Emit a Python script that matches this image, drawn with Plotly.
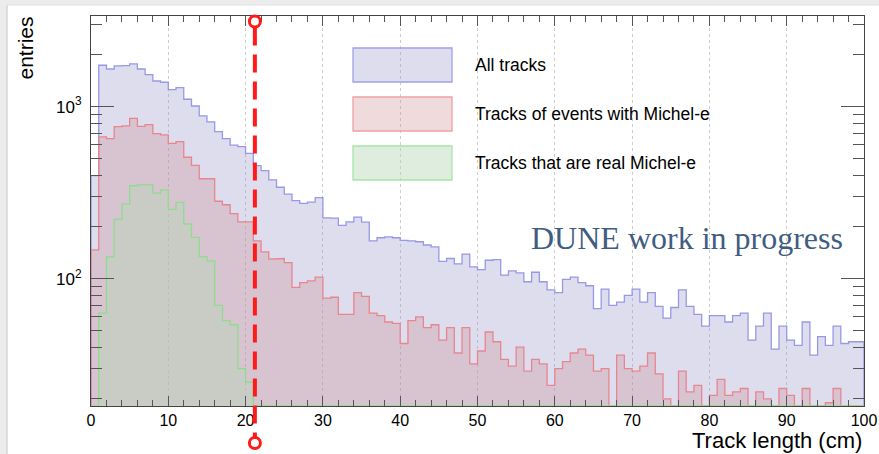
import plotly.graph_objects as go

# ---- histogram contents (1 cm bins from 0 to 100 cm) ----
bin_edges = list(range(0, 101))

all_tracks = [
    397, 1741, 1656, 1724, 1730, 1771, 1656, 1535, 1410, 1386,
    1256, 1290, 1104, 1009, 883, 815, 716, 652, 597, 585,
    535, 454, 425, 375, 340, 310, 284, 274, 279, 296,
    226, 225, 204, 214, 228, 213, 166, 173, 175, 173,
    167, 166, 164, 157, 153, 126, 131, 122, 139, 117,
    113, 128, 129, 105, 111, 108, 96, 109, 96, 86,
    83, 99, 102, 95, 91, 67, 87, 70, 73, 80,
    87, 73, 83, 69, 59, 68, 86, 69, 62, 53,
    61, 61, 56, 61, 63, 44, 53, 63, 39, 53,
    44, 41, 56, 36, 46, 41, 53, 42, 43, 43,
]

michel_events = [
    147, 667, 652, 765, 773, 854, 769, 786, 697, 685,
    611, 626, 508, 456, 381, 381, 282, 269, 239, 214,
    214, 166, 143, 130, 131, 124, 89, 95, 97, 102,
    77, 78, 62, 62, 83, 79, 63, 61, 56, 55,
    42, 57, 60, 52, 54, 44, 52, 37, 52, 32,
    38, 49, 43, 34, 31, 40, 29, 34, 32, 24,
    30, 33, 37, 39, 36, 29, 30, 0, 36, 30,
    29, 31, 37, 28, 20, 0, 29, 22, 24, 0,
    21, 26, 21, 22, 23, 0, 22, 20, 0, 23,
    21, 0, 23, 0, 0, 19, 23, 0, 0, 0,
]

real_michel = [
    0, 63, 134, 221, 272, 347, 351, 351, 314, 328,
    253, 278, 208, 174, 134, 127, 70, 57, 54, 30,
    25, 0, 0, 0, 0, 0, 0, 0, 0, 0,
] + [0] * 70

series_names = [
    "All tracks",
    "Tracks of events with Michel-e",
    "Tracks that are real Michel-e",
]

cut_length = 21.2          # selection cut shown as dashed marker
x_ticks = [0, 10, 20, 30, 40, 50, 60, 70, 80, 90, 100]
y_major = [100, 1000]
y_major_text = ["10<sup>2</sup>", "10<sup>3</sup>"]
y_minor = [20, 30, 40, 50, 60, 70, 80, 90,
           200, 300, 400, 500, 600, 700, 800, 900, 2000, 3000]

# ---- styling ----
W, H = 879, 454
L, R, T, B = 91, 15, 16, 48
PW, PH = W - L - R, H - T - B
Y_RANGE = [1.26, 3.527]
Y_FLOOR = 10 ** Y_RANGE[0]

fills = ["rgba(152,152,203,0.33)", "rgba(207,143,149,0.33)", "rgba(182,215,182,0.45)"]
lines = ["#9898e6", "#e8868f", "#8fdc8f"]
box_lines = ["#a0a0ea", "#eea0a4", "#a4e6a4"]
SANS = "Liberation Sans, Arial, sans-serif"


def px_x(px):
    return (px - L) / PW


def px_y(py):
    return (H - B - py) / PH


def step_fill(values):
    xs, ys = [bin_edges[0]], [1.0]
    for i, v in enumerate(values):
        h = v if v > 0 else 1.0
        xs += [bin_edges[i], bin_edges[i + 1]]
        ys += [h, h]
    xs.append(bin_edges[-1])
    ys.append(1.0)
    return xs, ys


def step_outline(values):
    xs, ys = [bin_edges[0]], [Y_FLOOR]
    for i, v in enumerate(values):
        h = max(v, Y_FLOOR)
        xs += [bin_edges[i], bin_edges[i + 1]]
        ys += [h, h]
    xs.append(bin_edges[-1])
    ys.append(Y_FLOOR)
    return xs, ys


fig = go.Figure()
for k, vals in enumerate([all_tracks, michel_events, real_michel]):
    fx, fy = step_fill(vals)
    fig.add_trace(go.Scatter(x=fx, y=fy, mode="lines", fill="toself",
                             fillcolor=fills[k], line=dict(width=0),
                             hoverinfo="skip", showlegend=False))
    ox, oy = step_outline(vals)
    fig.add_trace(go.Scatter(x=ox, y=oy, mode="lines",
                             line=dict(color=lines[k], width=1.3),
                             name=series_names[k], showlegend=False))

# invisible trace to carry the mirrored tick axes
fig.add_trace(go.Scatter(x=[50], y=[100], xaxis="x2", yaxis="y2",
                         mode="markers", marker=dict(opacity=0),
                         hoverinfo="skip", showlegend=False))

tick_common = dict(ticks="inside", tickcolor="#555", tickwidth=1, automargin=False)

fig.update_layout(
    width=W, height=H,
    margin=dict(l=L, r=R, t=T, b=B, autoexpand=False),
    paper_bgcolor="white", plot_bgcolor="white",
    font=dict(family=SANS, color="black"),
    xaxis=dict(range=[0, 100], tickvals=x_ticks, ticklen=10, **tick_common,
               minor=dict(dtick=2, ticklen=6, ticks="inside", tickcolor="#555"),
               showgrid=True, gridcolor="#cccccc", griddash="dot", gridwidth=1,
               showline=True, linecolor="#444", linewidth=1, mirror=True,
               tickfont=dict(size=16), zeroline=False),
    yaxis=dict(type="log", range=Y_RANGE, tickvals=y_major, ticktext=y_major_text,
               ticklen=23, **tick_common,
               minor=dict(tickvals=y_minor, ticklen=11, ticks="inside", tickcolor="#555"),
               showgrid=False, showline=True, linecolor="#444", linewidth=1,
               mirror=True, tickfont=dict(size=17), ticklabelstandoff=5,
               zeroline=False),
    xaxis2=dict(overlaying="x", side="top", range=[0, 100], tickvals=x_ticks,
                ticklen=10, **tick_common, showticklabels=False, showgrid=False,
                minor=dict(dtick=2, ticklen=6, ticks="inside", tickcolor="#555"),
                zeroline=False),
    yaxis2=dict(overlaying="y", side="right", type="log", range=Y_RANGE,
                tickvals=y_major, ticklen=23, **tick_common, showticklabels=False,
                minor=dict(tickvals=y_minor, ticklen=11, ticks="inside", tickcolor="#555"),
                showgrid=False, zeroline=False),
)

shapes = []
# page frame bands
shapes.append(dict(type="rect", xref="paper", yref="paper",
                   x0=px_x(0), x1=px_x(W), y0=px_y(5), y1=px_y(0),
                   fillcolor="#ececec", line=dict(width=0), layer="below"))
shapes.append(dict(type="rect", xref="paper", yref="paper",
                   x0=px_x(0), x1=px_x(7), y0=px_y(H), y1=px_y(0),
                   fillcolor="#ececec", line=dict(width=0), layer="below"))
shapes.append(dict(type="line", xref="paper", yref="paper",
                   x0=px_x(7), x1=px_x(7), y0=px_y(H), y1=px_y(5),
                   line=dict(color="#d6d6d6", width=1.5), layer="below"))
shapes.append(dict(type="line", xref="paper", yref="paper",
                   x0=px_x(7), x1=px_x(W), y0=px_y(5), y1=px_y(5),
                   line=dict(color="#dedede", width=1), layer="below"))

# legend boxes
legend_rows = [(48, 82), (97, 131), (146, 180)]
for k, (top, bot) in enumerate(legend_rows):
    shapes.append(dict(type="rect", xref="paper", yref="paper",
                       x0=px_x(353), x1=px_x(452), y0=px_y(bot), y1=px_y(top),
                       fillcolor=fills[k], line=dict(color=box_lines[k], width=1.3)))

# dashed cut marker with ring ends
ring_top, ring_bot = 21.5, 443
shapes.append(dict(type="line", xref="x", yref="paper",
                   x0=cut_length, x1=cut_length, y0=px_y(ring_top + 6), y1=px_y(ring_bot - 6),
                   line=dict(color="#ff1a1a", width=4, dash="18px,9px")))
for cy in (ring_top, ring_bot):
    shapes.append(dict(type="circle", xref="x", yref="paper",
                       xsizemode="pixel", ysizemode="pixel",
                       xanchor=cut_length, yanchor=px_y(cy),
                       x0=-5.5, x1=5.5, y0=-5.5, y1=5.5,
                       fillcolor="white", line=dict(color="#ff1a1a", width=3)))
fig.update_layout(shapes=shapes)

annotations = []
for k, (top, bot) in enumerate(legend_rows):
    annotations.append(dict(text=series_names[k], xref="paper", yref="paper",
                            x=px_x(473), y=px_y((top + bot) / 2),
                            xanchor="left", yanchor="middle", showarrow=False,
                            font=dict(size=17.5, family=SANS, color="black")))
annotations.append(dict(text="DUNE work in progress", xref="paper", yref="paper",
                        x=px_x(687), y=px_y(238), xanchor="center", yanchor="middle",
                        showarrow=False,
                        font=dict(size=32, family="Liberation Serif, Georgia, serif",
                                  color="#3f5d80")))
annotations.append(dict(text="entries", xref="paper", yref="paper",
                        x=px_x(25), y=px_y(15), xanchor="center", yanchor="top",
                        textangle=-90, showarrow=False,
                        font=dict(size=21, family=SANS, color="black")))
annotations.append(dict(text="Track length (cm)", xref="paper", yref="paper",
                        x=px_x(864), y=px_y(441), xanchor="right", yanchor="middle",
                        showarrow=False,
                        font=dict(size=22, family=SANS, color="black")))
fig.update_layout(annotations=annotations)

fig.write_html("out.html")
